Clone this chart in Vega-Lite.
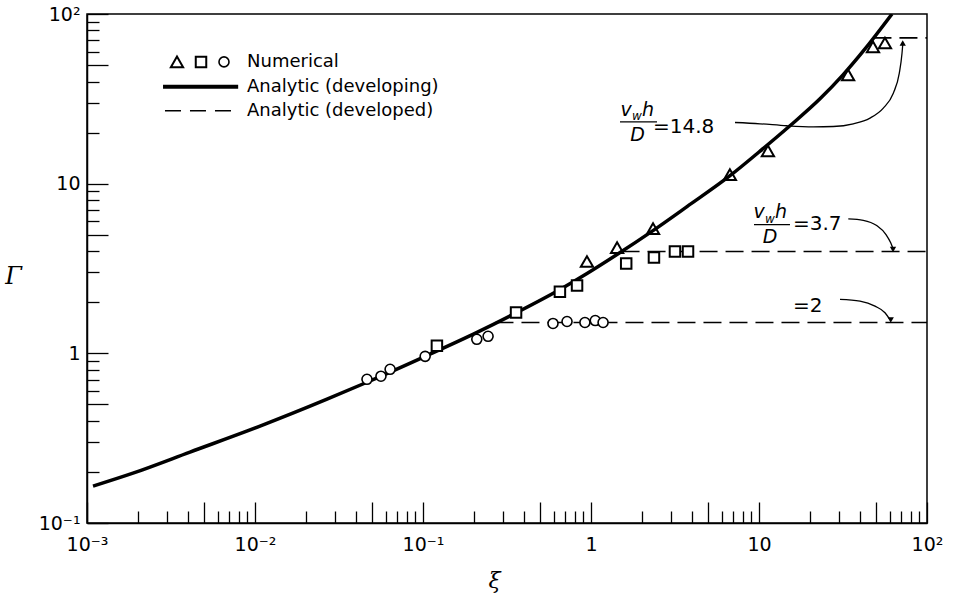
{
  "$schema": "https://vega.github.io/schema/vega-lite/v6.json",
  "width": 840,
  "height": 509,
  "autosize": {"type": "none"},
  "padding": {"left": 87, "top": 14, "right": 29, "bottom": 72},
  "background": "white",
  "config": {
    "view": {"stroke": "black", "strokeWidth": 1.5},
    "font": "DejaVu Sans"
  },
  "datasets": {
    "curve": [
      {"xi": 0.001086, "g": 0.1651}, {"xi": 0.001878, "g": 0.1968}, {"xi": 0.004103, "g": 0.2618},
      {"xi": 0.01071, "g": 0.3722}, {"xi": 0.02683, "g": 0.5364}, {"xi": 0.04642, "g": 0.6753},
      {"xi": 0.1, "g": 0.9473}, {"xi": 0.2096, "g": 1.329}, {"xi": 0.3433, "g": 1.696},
      {"xi": 0.6538, "g": 2.379}, {"xi": 0.9467, "g": 2.955}, {"xi": 1.428, "g": 3.823},
      {"xi": 2.339, "g": 5.29}, {"xi": 3.728, "g": 7.323}, {"xi": 6.722, "g": 11.14},
      {"xi": 10.56, "g": 16.07}, {"xi": 15.29, "g": 21.94}, {"xi": 23.07, "g": 31.62},
      {"xi": 31.62, "g": 43.77}, {"xi": 42.76, "g": 62.25}, {"xi": 61.89, "g": 100}
    ],
    "developed": [
      {"case": "2", "xi": 0.27, "g": 1.52}, {"case": "2", "xi": 100, "g": 1.52},
      {"case": "3.7", "xi": 1.52, "g": 3.98}, {"case": "3.7", "xi": 100, "g": 3.98},
      {"case": "14.8", "xi": 48, "g": 72.3}, {"case": "14.8", "xi": 100, "g": 72.3}
    ],
    "numerical": [
      {"case": "14.8", "xi": 0.946, "g": 3.48}, {"case": "14.8", "xi": 1.43, "g": 4.2},
      {"case": "14.8", "xi": 2.34, "g": 5.43}, {"case": "14.8", "xi": 6.71, "g": 11.3},
      {"case": "14.8", "xi": 11.3, "g": 15.6}, {"case": "14.8", "xi": 33.9, "g": 43.8},
      {"case": "14.8", "xi": 47.7, "g": 64}, {"case": "14.8", "xi": 56.2, "g": 67.5},
      {"case": "3.7", "xi": 0.121, "g": 1.11}, {"case": "3.7", "xi": 0.358, "g": 1.74},
      {"case": "3.7", "xi": 0.653, "g": 2.31}, {"case": "3.7", "xi": 0.826, "g": 2.51},
      {"case": "3.7", "xi": 1.62, "g": 3.38}, {"case": "3.7", "xi": 2.37, "g": 3.67},
      {"case": "3.7", "xi": 3.16, "g": 3.98}, {"case": "3.7", "xi": 3.78, "g": 3.98},
      {"case": "2", "xi": 0.0464, "g": 0.703}, {"case": "2", "xi": 0.0562, "g": 0.733},
      {"case": "2", "xi": 0.0637, "g": 0.805}, {"case": "2", "xi": 0.103, "g": 0.96},
      {"case": "2", "xi": 0.209, "g": 1.21}, {"case": "2", "xi": 0.244, "g": 1.26},
      {"case": "2", "xi": 0.594, "g": 1.5}, {"case": "2", "xi": 0.72, "g": 1.54},
      {"case": "2", "xi": 0.92, "g": 1.52}, {"case": "2", "xi": 1.06, "g": 1.56},
      {"case": "2", "xi": 1.18, "g": 1.52},
      {"case": "14.8", "xi": 0.003433, "g": 52.2}, {"case": "3.7", "xi": 0.004771, "g": 52.2},
      {"case": "2", "xi": 0.006538, "g": 52.2}
    ],
    "legendLines": [
      {"item": "developing", "xi": 0.002835, "g": 37.2}, {"item": "developing", "xi": 0.00794, "g": 37.2},
      {"item": "developed", "xi": 0.002912, "g": 26.88}, {"item": "developed", "xi": 0.00794, "g": 26.88}
    ],
    "legendText": [
      {"t": "Numerical", "xi": 0.008962, "g": 52.2},
      {"t": "Analytic (developing)", "xi": 0.008962, "g": 37.2},
      {"t": "Analytic (developed)", "xi": 0.008962, "g": 26.88}
    ],
    "annoText": [
      {"t": "=14.8", "xi": 2.339, "g": 19.95},
      {"t": "=3.7", "xi": 15.94, "g": 5.362},
      {"t": "=2", "xi": 15.94, "g": 1.742}
    ],
    "italicText": [
      {"t": "v", "xi": 1.616, "g": 25.12}, {"t": "h", "xi": 2.184, "g": 25.12}, {"t": "D", "xi": 1.892, "g": 17.9},
      {"t": "v", "xi": 10.0, "g": 6.31}, {"t": "h", "xi": 13.52, "g": 6.31}, {"t": "D", "xi": 11.63, "g": 4.498}
    ],
    "subText": [
      {"t": "w", "xi": 1.879, "g": 23.8}, {"t": "w", "xi": 11.63, "g": 5.896}
    ],
    "bars": [
      {"frac": "a", "xi": 1.488, "g": 23.16}, {"frac": "a", "xi": 2.471, "g": 23.16},
      {"frac": "b", "xi": 9.338, "g": 5.738}, {"frac": "b", "xi": 15.29, "g": 5.738}
    ],
    "arrows": [
      {"arrow": "a", "xi": 7.196, "g": 22.94}, {"arrow": "a", "xi": 10.14, "g": 22.54},
      {"arrow": "a", "xi": 14.62, "g": 21.94}, {"arrow": "a", "xi": 21.05, "g": 21.64},
      {"arrow": "a", "xi": 27.69, "g": 21.73}, {"arrow": "a", "xi": 36.42, "g": 22.54},
      {"arrow": "a", "xi": 45.79, "g": 24.35}, {"arrow": "a", "xi": 54.95, "g": 27.88},
      {"arrow": "a", "xi": 63.02, "g": 34.16}, {"arrow": "a", "xi": 68.42, "g": 44.79},
      {"arrow": "a", "xi": 71.0, "g": 58.73}, {"arrow": "a", "xi": 71.69, "g": 65.72},
      {"arrow": "b", "xi": 34.0, "g": 6.2}, {"arrow": "b", "xi": 41.77, "g": 6.083},
      {"arrow": "b", "xi": 50.18, "g": 5.662}, {"arrow": "b", "xi": 57.02, "g": 5.012},
      {"arrow": "b", "xi": 60.81, "g": 4.479}, {"arrow": "b", "xi": 62.5, "g": 4.185},
      {"arrow": "c", "xi": 30.35, "g": 2.078}, {"arrow": "c", "xi": 39.93, "g": 2.03},
      {"arrow": "c", "xi": 49.03, "g": 1.897}, {"arrow": "c", "xi": 56.23, "g": 1.735},
      {"arrow": "c", "xi": 59.65, "g": 1.6}
    ],
    "headsUp": [
      {"xi": 71.69, "g": 67.52}
    ],
    "headsDown": [
      {"xi": 62.76, "g": 4.091}, {"xi": 60.81, "g": 1.57}
    ]
  },
  "encoding": {
    "x": {
      "field": "xi",
      "type": "quantitative",
      "scale": {"type": "log", "domain": [0.001, 100], "nice": false},
      "axis": {
        "values": [0.001, 0.002, 0.003, 0.004, 0.005, 0.006, 0.007, 0.008, 0.009,
                   0.01, 0.02, 0.03, 0.04, 0.05, 0.06, 0.07, 0.08, 0.09,
                   0.1, 0.2, 0.3, 0.4, 0.5, 0.6, 0.7, 0.8, 0.9,
                   1, 2, 3, 4, 5, 6, 7, 8, 9,
                   10, 20, 30, 40, 50, 60, 70, 80, 90, 100],
        "labelExpr": "datum.value == 0.001 ? '10⁻³' : datum.value == 0.01 ? '10⁻²' : datum.value == 0.1 ? '10⁻¹' : datum.value == 1 ? '1' : datum.value == 10 ? '10' : datum.value == 100 ? '10²' : ''",
        "grid": false,
        "domainColor": "black",
        "domainWidth": 1.5,
        "tickColor": "black",
        "tickWidth": 1.3,
        "tickSize": {"condition": {"test": "indexof([1,5], round(datum.value / pow(10, floor(log(datum.value) / LN10 + 1e-9)))) >= 0", "value": -21}, "value": -12},
        "labelPadding": 33,
        "labelFont": "DejaVu Sans",
        "labelFontSize": 19,
        "labelColor": "black",
        "labelFlush": false,
        "labelOverlap": false,
        "labelBound": false,
        "title": "ξ",
        "titleFont": "DejaVu Serif",
        "titleFontStyle": "italic",
        "titleFontWeight": "normal",
        "titleFontSize": 22,
        "titleColor": "black",
        "titleX": 407,
        "titleY": 57,
        "titleAlign": "center",
        "titleBaseline": "middle"
      }
    },
    "y": {
      "field": "g",
      "type": "quantitative",
      "scale": {"type": "log", "domain": [0.1, 100], "nice": false},
      "axis": {
        "values": [0.1, 0.2, 0.3, 0.4, 0.5, 0.6, 0.7, 0.8, 0.9,
                   1, 2, 3, 4, 5, 6, 7, 8, 9,
                   10, 20, 30, 40, 50, 60, 70, 80, 90, 100],
        "labelExpr": "datum.value == 0.1 ? '10⁻¹' : datum.value == 1 ? '1' : datum.value == 10 ? '10' : datum.value == 100 ? '10²' : ''",
        "grid": false,
        "domainColor": "black",
        "domainWidth": 1.5,
        "tickColor": "black",
        "tickWidth": 1.3,
        "tickSize": {"condition": {"test": "indexof([1,5], round(datum.value / pow(10, floor(log(datum.value) / LN10 + 1e-9)))) >= 0", "value": -21}, "value": -12},
        "labelPadding": 28,
        "labelFont": "DejaVu Sans",
        "labelFontSize": 19,
        "labelColor": "black",
        "labelFlush": false,
        "labelOverlap": false,
        "labelBound": false,
        "title": "Γ",
        "titleFont": "DejaVu Serif",
        "titleFontStyle": "italic",
        "titleFontWeight": "normal",
        "titleFontSize": 24,
        "titleColor": "black",
        "titleAngle": 0,
        "titleX": -74,
        "titleY": 262,
        "titleAlign": "center",
        "titleBaseline": "middle"
      }
    }
  },
  "layer": [
    {
      "data": {"name": "developed"},
      "mark": {"type": "line", "color": "black", "strokeWidth": 1.6, "strokeDash": [18, 8]},
      "encoding": {"detail": {"field": "case"}}
    },
    {
      "data": {"name": "curve"},
      "mark": {"type": "line", "color": "black", "strokeWidth": 3.5, "interpolate": "monotone", "clip": true}
    },
    {
      "data": {"name": "numerical"},
      "transform": [{"filter": "datum.case == '14.8'"}],
      "mark": {"type": "point", "shape": "triangle-up", "filled": false, "stroke": "black", "strokeWidth": 2, "size": 150, "opacity": 1}
    },
    {
      "data": {"name": "numerical"},
      "transform": [{"filter": "datum.case == '3.7'"}],
      "mark": {"type": "point", "shape": "square", "filled": true, "fill": "white", "stroke": "black", "strokeWidth": 2, "size": 110, "opacity": 1}
    },
    {
      "data": {"name": "numerical"},
      "transform": [{"filter": "datum.case == '2'"}],
      "mark": {"type": "point", "shape": "circle", "filled": true, "fill": "white", "stroke": "black", "strokeWidth": 1.6, "size": 100, "opacity": 1}
    },
    {
      "data": {"name": "legendLines"},
      "transform": [{"filter": "datum.item == 'developing'"}],
      "mark": {"type": "line", "color": "black", "strokeWidth": 4}
    },
    {
      "data": {"name": "legendLines"},
      "transform": [{"filter": "datum.item == 'developed'"}],
      "mark": {"type": "line", "color": "black", "strokeWidth": 1.5, "strokeDash": [16, 9]}
    },
    {
      "data": {"name": "legendText"},
      "mark": {"type": "text", "align": "left", "baseline": "middle", "font": "DejaVu Sans", "fontSize": 18, "color": "black"},
      "encoding": {"text": {"field": "t"}}
    },
    {
      "data": {"name": "annoText"},
      "mark": {"type": "text", "align": "left", "baseline": "alphabetic", "font": "DejaVu Sans", "fontSize": 20, "color": "black"},
      "encoding": {"text": {"field": "t"}}
    },
    {
      "data": {"name": "italicText"},
      "mark": {"type": "text", "align": "center", "baseline": "alphabetic", "font": "DejaVu Sans", "fontStyle": "italic", "fontSize": 19, "color": "black"},
      "encoding": {"text": {"field": "t"}}
    },
    {
      "data": {"name": "subText"},
      "mark": {"type": "text", "align": "center", "baseline": "alphabetic", "font": "DejaVu Sans", "fontStyle": "italic", "fontSize": 12, "color": "black"},
      "encoding": {"text": {"field": "t"}}
    },
    {
      "data": {"name": "bars"},
      "mark": {"type": "line", "color": "black", "strokeWidth": 1.3},
      "encoding": {"detail": {"field": "frac"}}
    },
    {
      "data": {"name": "arrows"},
      "mark": {"type": "line", "color": "black", "strokeWidth": 1.3, "interpolate": "monotone"},
      "encoding": {"detail": {"field": "arrow"}}
    },
    {
      "data": {"name": "headsUp"},
      "mark": {"type": "point", "shape": "triangle-up", "filled": true, "color": "black", "size": 40, "opacity": 1}
    },
    {
      "data": {"name": "headsDown"},
      "mark": {"type": "point", "shape": "triangle-down", "filled": true, "color": "black", "size": 40, "opacity": 1}
    }
  ]
}
